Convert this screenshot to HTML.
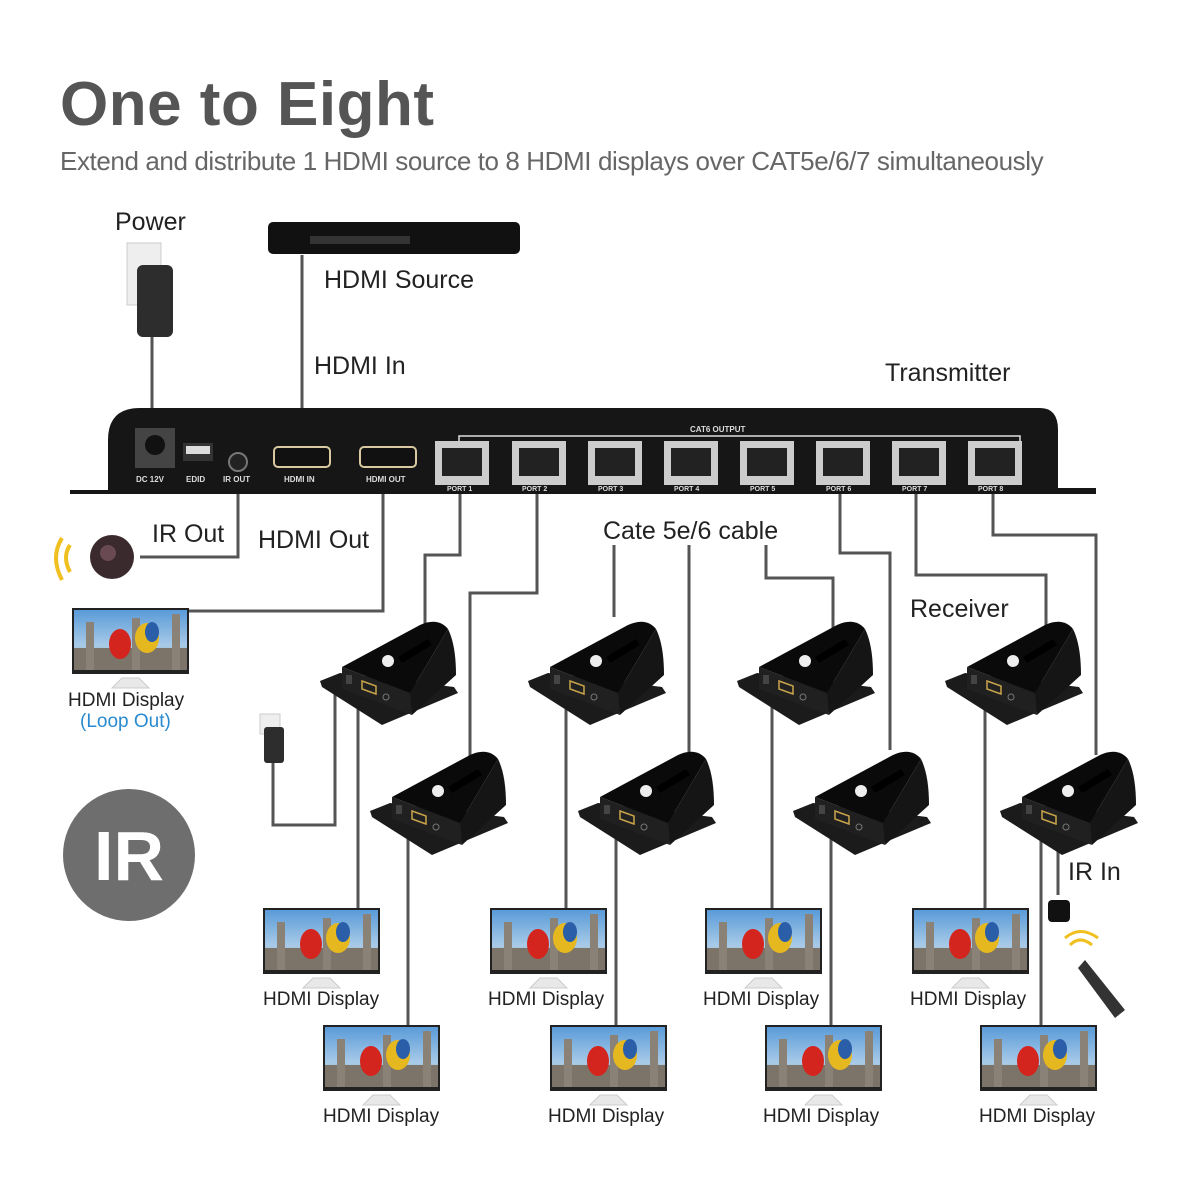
<!DOCTYPE html>
<html><head><meta charset="utf-8"><style>
body{margin:0;background:#fff;}
svg{display:block;}
text{font-family:"Liberation Sans",sans-serif;}
</style></head><body>
<svg width="1200" height="1200" viewBox="0 0 1200 1200" xmlns="http://www.w3.org/2000/svg">
<defs>
<linearGradient id="sky" x1="0" y1="0" x2="0" y2="1"><stop offset="0" stop-color="#5a9bd8"/><stop offset="0.6" stop-color="#a9cbe8"/><stop offset="1" stop-color="#6f8a6a"/></linearGradient>
<g id="disp">
<rect x="0" y="0" width="117" height="66" fill="#222"/>
<rect x="2" y="2" width="113" height="60" fill="url(#sky)"/>
<rect x="2" y="40" width="113" height="22" fill="#7c7468"/>
<rect x="14" y="14" width="8" height="48" fill="#8a8276"/>
<rect x="60" y="10" width="8" height="52" fill="#8a8276"/>
<rect x="100" y="6" width="8" height="56" fill="#8a8276"/>
<ellipse cx="48" cy="36" rx="11" ry="15" fill="#d3251e"/>
<ellipse cx="75" cy="30" rx="12" ry="15" fill="#e6b820"/>
<ellipse cx="80" cy="24" rx="7" ry="10" fill="#2a5ea8"/>
<path d="M40 80 L50 70 L67 70 L77 80 Z" fill="#e8e8e8" stroke="#ccc"/>
</g>
<g id="rx">
<path d="M0 66 L20 58 L134 72 L138 78 L62 110 L2 72 Z" fill="#1b1b1b"/>
<path d="M22 52 L100 10 Q118 2 128 14 L90 78 Z" fill="#0a0a0a"/>
<path d="M90 78 L128 14 Q136 30 136 60 L92 100 Z" fill="#151515"/>
<path d="M22 52 L90 78 L92 100 L22 74 Z" fill="#202020"/>
<circle cx="68" cy="46" r="6" fill="#eee"/>
<path d="M78 42 L108 24 L112 30 L82 48 Z" fill="#000"/>
<path d="M42 66 L56 71 L56 79 L42 74 Z" fill="none" stroke="#c9a44a" stroke-width="1.5"/>
<circle cx="66" cy="82" r="3" fill="none" stroke="#777"/>
<rect x="26" y="60" width="6" height="9" fill="#444"/>
</g>
</defs>

<text x="60" y="125" font-size="62" font-weight="bold" fill="#555" letter-spacing="0.5">One to Eight</text>
<text x="60" y="170" font-size="26" fill="#666" letter-spacing="-0.4">Extend and distribute 1 HDMI source to 8 HDMI displays over CAT5e/6/7 simultaneously</text>

<g font-size="25" fill="#222">
<text x="115" y="230">Power</text>
<text x="324" y="288">HDMI Source</text>
<text x="314" y="374">HDMI In</text>
<text x="885" y="381">Transmitter</text>
<text x="152" y="542">IR Out</text>
<text x="258" y="548">HDMI Out</text>
<text x="603" y="539">Cate 5e/6 cable</text>
<text x="910" y="617">Receiver</text>
<text x="1068" y="880">IR In</text>
</g>

<rect x="127" y="243" width="34" height="62" fill="#eee" stroke="#ccc"/>
<rect x="137" y="265" width="36" height="72" rx="6" fill="#2d2d2d"/>
<rect x="268" y="222" width="252" height="32" rx="5" fill="#111"/>
<rect x="310" y="236" width="100" height="8" fill="#333"/>

<g fill="none" stroke="#555" stroke-width="3">
<path d="M152 337 V440"/>
<path d="M302 255 V460"/>
<path d="M238 470 V557 H140"/>
<path d="M383 470 V611 H188"/>
<path d="M460 470 V555 H425 V632"/>
<path d="M537 470 V593 H470 V760"/>
<path d="M614 545 V617"/>
<path d="M689 545 V765"/>
<path d="M766 545 V578 H833 V630"/>
<path d="M840 470 V553 H890 V750"/>
<path d="M916 470 V575 H1046 V630"/>
<path d="M993 470 V535 H1096 V755"/>
<path d="M335 680 V825 H273 V760"/>
<path d="M358 700 V908"/><path d="M408 830 V1025"/>
<path d="M566 700 V908"/><path d="M616 830 V1025"/>
<path d="M772 700 V908"/><path d="M831 830 V1025"/>
<path d="M985 700 V908"/><path d="M1041 830 V1025"/>
<path d="M1058 830 V895"/>
</g>

<path d="M70 490 H108 V440 Q108 408 140 408 H1040 Q1058 408 1058 430 V488 H1096 V494 H70 Z" fill="#161616"/>
<rect x="135" y="428" width="40" height="40" fill="#444"/><circle cx="155" cy="445" r="10" fill="#111"/>
<rect x="183" y="443" width="30" height="18" fill="#333"/><rect x="186" y="446" width="24" height="8" fill="#ddd"/>
<circle cx="238" cy="462" r="9" fill="#222" stroke="#777" stroke-width="2"/>
<rect x="274" y="447" width="56" height="20" rx="4" fill="#111" stroke="#d8c9a0" stroke-width="2"/>
<rect x="360" y="447" width="56" height="20" rx="4" fill="#111" stroke="#d8c9a0" stroke-width="2"/>
<g fill="#ddd" font-size="8" font-weight="bold">
<text x="136" y="482">DC 12V</text><text x="186" y="482">EDID</text><text x="223" y="482">IR OUT</text>
<text x="284" y="482">HDMI IN</text><text x="366" y="482">HDMI OUT</text>
<text x="690" y="432">CAT6 OUTPUT</text>
</g>
<path d="M459 442 V436 H1020 V442" fill="none" stroke="#ddd" stroke-width="1.5"/>
<g fill="#ccc">
<rect x="435" y="441" width="54" height="44"/><rect x="512" y="441" width="54" height="44"/>
<rect x="588" y="441" width="54" height="44"/><rect x="664" y="441" width="54" height="44"/>
<rect x="740" y="441" width="54" height="44"/><rect x="816" y="441" width="54" height="44"/>
<rect x="892" y="441" width="54" height="44"/><rect x="968" y="441" width="54" height="44"/>
</g>
<g fill="#222">
<rect x="442" y="448" width="40" height="28"/><rect x="519" y="448" width="40" height="28"/>
<rect x="595" y="448" width="40" height="28"/><rect x="671" y="448" width="40" height="28"/>
<rect x="747" y="448" width="40" height="28"/><rect x="823" y="448" width="40" height="28"/>
<rect x="899" y="448" width="40" height="28"/><rect x="975" y="448" width="40" height="28"/>
</g>
<g fill="#ddd" font-size="7" font-weight="bold">
<text x="447" y="491">PORT 1</text><text x="522" y="491">PORT 2</text><text x="598" y="491">PORT 3</text><text x="674" y="491">PORT 4</text>
<text x="750" y="491">PORT 5</text><text x="826" y="491">PORT 6</text><text x="902" y="491">PORT 7</text><text x="978" y="491">PORT 8</text>
</g>

<circle cx="112" cy="557" r="22" fill="#3a2a2e"/><circle cx="108" cy="553" r="8" fill="#6a4a52"/>
<path d="M70 545 Q62 557 70 572 M62 538 Q50 557 62 580" stroke="#f0c020" stroke-width="4" fill="none"/>

<use href="#disp" x="72" y="608"/>
<text x="68" y="706" font-size="19" fill="#222">HDMI Display</text>
<text x="80" y="727" font-size="19" fill="#2a8ad0">(Loop Out)</text>

<rect x="260" y="714" width="20" height="20" fill="#eee" stroke="#ccc"/>
<rect x="264" y="727" width="20" height="36" rx="3" fill="#2d2d2d"/>

<use href="#rx" x="320" y="615"/><use href="#rx" x="370" y="745"/>
<use href="#rx" x="528" y="615"/><use href="#rx" x="578" y="745"/>
<use href="#rx" x="737" y="615"/><use href="#rx" x="793" y="745"/>
<use href="#rx" x="945" y="615"/><use href="#rx" x="1000" y="745"/>

<circle cx="129" cy="855" r="66" fill="#6e6e6e"/>
<text x="129" y="880" font-size="70" font-weight="bold" fill="#fff" text-anchor="middle">IR</text>

<rect x="1048" y="900" width="22" height="22" rx="4" fill="#111"/>
<path d="M1070 945 Q1080 935 1092 945 M1065 938 Q1080 925 1098 938" stroke="#f0c020" stroke-width="3" fill="none"/>
<path d="M1085 960 L1125 1010 L1115 1018 L1078 968 Z" fill="#333"/>

<use href="#disp" x="263" y="908"/><use href="#disp" x="323" y="1025"/>
<use href="#disp" x="490" y="908"/><use href="#disp" x="550" y="1025"/>
<use href="#disp" x="705" y="908"/><use href="#disp" x="765" y="1025"/>
<use href="#disp" x="912" y="908"/><use href="#disp" x="980" y="1025"/>
<g font-size="19" fill="#222">
<text x="263" y="1005">HDMI Display</text><text x="323" y="1122">HDMI Display</text>
<text x="488" y="1005">HDMI Display</text><text x="548" y="1122">HDMI Display</text>
<text x="703" y="1005">HDMI Display</text><text x="763" y="1122">HDMI Display</text>
<text x="910" y="1005">HDMI Display</text><text x="979" y="1122">HDMI Display</text>
</g>
</svg>
</body></html>
